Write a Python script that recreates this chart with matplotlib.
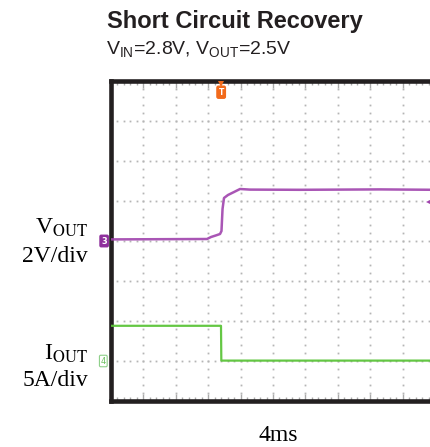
import numpy as np
import matplotlib
matplotlib.use("Agg")
import matplotlib.pyplot as plt
from matplotlib.ticker import MultipleLocator

# ---- data (time in ms, 4 ms/div) ----
t_vout = [0.0, 11.85, 12.35, 12.96, 13.46, 13.64, 13.77, 13.95, 14.44, 15.19, 15.93, 17.16, 23.3, 33.2, 40.0]
v_out = [0.08, 0.10, 0.20, 0.28, 0.35, 0.50, 1.60, 2.15, 2.30, 2.45, 2.60, 2.57, 2.56, 2.58, 2.56]
t_iout = [0.0, 13.58, 13.62, 40.0]
i_out = [4.4, 4.4, 0.05, 0.05]
trigger_t = 13.6
trig_level_v = 1.9

v_scale = 2.0   # V/div
i_scale = 5.0   # A/div
v_ground = 4.0  # div from bottom
i_ground = 1.0
ms_per_div = 4.0

plt.rcParams['mathtext.fontset'] = 'custom'
plt.rcParams['mathtext.rm'] = 'Liberation Sans'

W, H = 431, 447
fig = plt.figure(figsize=(W / 100, H / 100), dpi=100)
ax = fig.add_axes([111 / W, (H - 401) / H, 324 / W, 320 / H])
ax.set_xlim(0, 10 * ms_per_div)
ax.set_ylim(0, 8)

# grid of dots
gx_major = np.arange(1, 10) * ms_per_div
gy_minor = np.arange(1, 40) * 0.2
gy_major = np.arange(1, 8)
gx_minor = np.arange(1, 50) * ms_per_div / 5
for gx in gx_major:
    ax.plot(np.full_like(gy_minor, gx), gy_minor, ls='none', marker='s', ms=1.3, mew=0,
            color='#b5b5b5', zorder=1)
for gy in gy_major:
    ax.plot(gx_minor, np.full_like(gx_minor, gy), ls='none', marker='s', ms=1.3, mew=0,
            color='#b5b5b5', zorder=1)

ax.xaxis.set_major_locator(MultipleLocator(ms_per_div))
ax.xaxis.set_minor_locator(MultipleLocator(ms_per_div / 5))
ax.tick_params(axis='x', which='both', direction='in', top=True, bottom=True,
               labelbottom=False, color='#aaaaaa')
ax.tick_params(axis='x', which='major', length=5, width=1)
ax.tick_params(axis='x', which='minor', length=3, width=1)
ax.tick_params(axis='y', left=False, labelleft=False)

for s in ax.spines.values():
    s.set_linewidth(3.3)
    s.set_color('#231f20')

# traces
vy = [v_ground + v / v_scale for v in v_out]
iy = [i_ground + i / i_scale for i in i_out]
ax.plot(t_vout, vy, color='#a043ad', lw=1.8, alpha=0.9, zorder=3)
ax.plot(t_iout, iy, color='#5cc43a', lw=1.6, alpha=0.95, zorder=3)

# channel markers
ax.text(-0.85, v_ground, '3', color='white', fontsize=6, fontweight='bold', ha='center', va='center',
        bbox=dict(boxstyle='round,pad=0.15', fc='#8e2f9c', ec='#8e2f9c'), clip_on=False, zorder=5)
ax.text(-0.95, i_ground, '4', color='#6cc060', fontsize=6, ha='center', va='center',
        bbox=dict(boxstyle='round,pad=0.15', fc='white', ec='#8fd08a', lw=0.8), clip_on=False, zorder=5)
# trigger marker
ax.plot([trigger_t], [7.93], marker='v', ms=4, color='#f26a1b', mew=0, zorder=6, clip_on=False)
ax.text(trigger_t, 7.72, 'T', color='white', fontsize=5.5, fontweight='bold', ha='center', va='center',
        bbox=dict(boxstyle='round,pad=0.2', fc='#f26a1b', ec='#f26a1b'), zorder=6)
ax.plot([39.3], [v_ground + trig_level_v / v_scale + 0.02], marker='<', ms=5, color='#a043ad', mew=0,
        zorder=6, clip_on=False)

# titles
fig.text(235 / W, 1 - 28 / H, 'Short Circuit Recovery', ha='center', va='baseline',
         fontsize=17, fontweight='bold', family='Liberation Sans', color='#231f20')
fig.text(106 / W, 1 - 55 / H, r'V$_{\mathrm{IN}}$=2.8V, V$_{\mathrm{OUT}}$=2.5V', ha='left', va='baseline',
         fontsize=14, family='Liberation Sans', color='#231f20', math_fontfamily='custom')

serif = ['Liberation Serif', 'DejaVu Serif']
fig.text(88 / W, 1 - 234 / H, r'V$_{\mathrm{OUT}}$', ha='right', va='baseline', fontsize=17,
         family=serif, math_fontfamily='stix')
fig.text(88 / W, 1 - 262 / H, '2V/div', ha='right', va='baseline', fontsize=17, family=serif)
fig.text(88 / W, 1 - 360 / H, r'I$_{\mathrm{OUT}}$', ha='right', va='baseline', fontsize=17,
         family=serif, math_fontfamily='stix')
fig.text(88 / W, 1 - 386 / H, '5A/div', ha='right', va='baseline', fontsize=17, family=serif)
fig.text(278 / W, 1 - 441 / H, '4ms', ha='center', va='baseline', fontsize=17, family=serif)

fig.savefig('out.png', dpi=100)
